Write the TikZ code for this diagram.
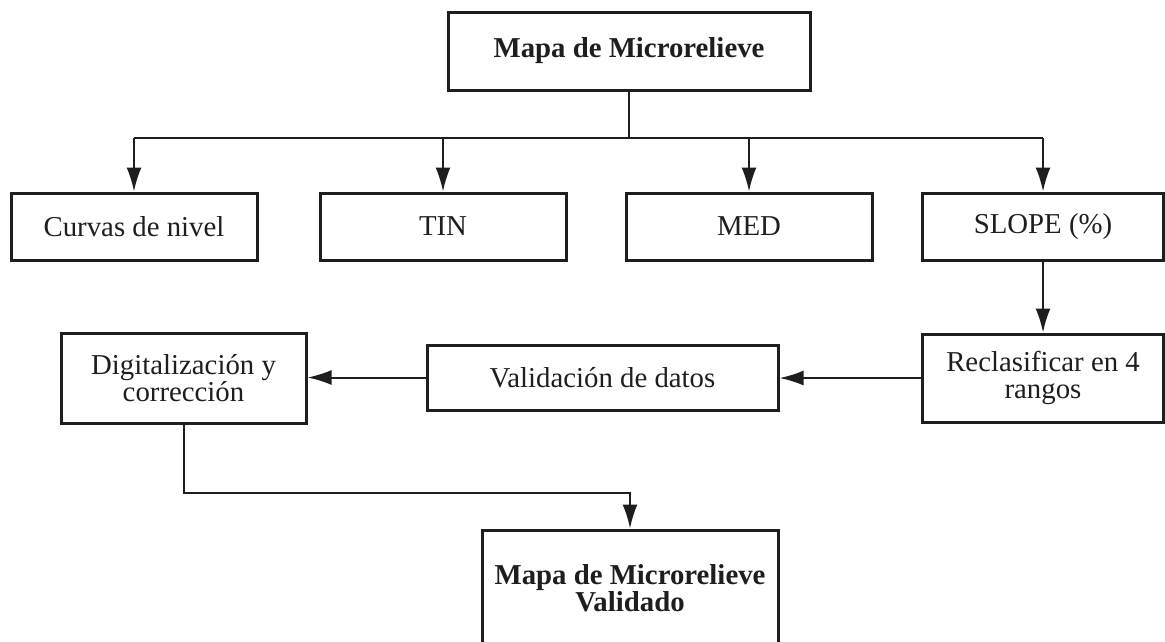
\documentclass[tikz,border=0pt]{standalone}
\usepackage{fontspec}
\setmainfont{Liberation Serif}
\usetikzlibrary{arrows.meta,calc}
\definecolor{ink}{HTML}{1E1E1E}
\begin{document}
\begin{tikzpicture}[x=1pt,y=-1pt,
  box/.style={draw=ink,line width=3pt,inner sep=0pt,align=center,text=ink,
    font=\fontsize{28.8}{27.5}\selectfont},
  rowbox/.style={box,minimum width=246pt,minimum height=67pt},
  conn/.style={draw=ink,line width=2pt},
  arr/.style={conn,-{Latex[length=24pt,width=15pt]}}]
\useasboundingbox (0,0) rectangle (1165,641);
\fill[white] (0,0) rectangle (1165,641);

\node[box,minimum width=362pt,minimum height=78pt,font=\fontsize{28.8}{27.5}\selectfont\bfseries] (top) at (629,51) {Mapa de Microrelieve};

\node[rowbox] (curvas) at (134,226.5) {Curvas de nivel};
\node[rowbox] (tin) at (443,226.5) {TIN};
\node[rowbox] (med) at (749,226.5) {MED};
\node[rowbox,minimum width=241pt] (slope) at (1043,226.5) {SLOPE (\%)};

\node[box,minimum width=241pt,minimum height=88pt] (recl) at (1043,378) {Reclasificar en 4\\rangos};
\node[box,minimum width=351pt,minimum height=65pt] (valid) at (602.5,377.5) {Validación de datos};
\node[box,minimum width=245pt,minimum height=90pt] (digit) at (183.5,378) {Digitalización y\\corrección};

\node[box,minimum width=296pt,minimum height=116pt,font=\fontsize{28.8}{27.5}\selectfont\bfseries] (final) at (630,588) {Mapa de Microrelieve\\Validado};

\coordinate (bus) at (629,138);
\coordinate (turn) at (183.5,493);

\draw[conn] (top.south) -- (bus);
\draw[conn] (bus -| curvas) -- (bus -| slope);
\draw[arr] (bus -| curvas) -- (curvas.north);
\draw[arr] (bus -| tin) -- (tin.north);
\draw[arr] (bus -| med) -- (med.north);
\draw[arr] (bus -| slope) -- (slope.north);

\draw[arr] (slope.south) -- (recl.north);
\draw[arr] (recl.west) -- (valid.east |- recl.west);
\draw[arr] (valid.west) -- (digit.east |- valid.west);
\draw[arr] (digit.south) -- (turn) -- (turn -| final.north) -- (final.north);
\end{tikzpicture}
\end{document}
